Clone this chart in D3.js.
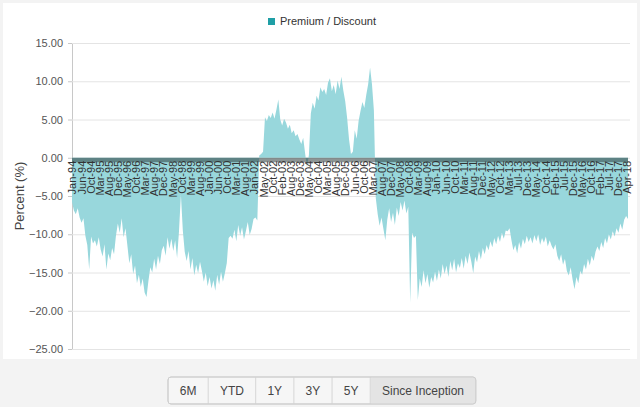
<!DOCTYPE html>
<html><head><meta charset="utf-8">
<script src="https://cdn.jsdelivr.net/npm/d3@7"></script>
<style>
html,body{margin:0;padding:0;background:#f3f3f3;}
svg{display:block;font-family:"Liberation Sans",Arial,sans-serif;}
</style></head><body>
<svg id="chart" width="640" height="407"></svg>
<script>
// Monthly premium / discount (%), Jan-94 .. Apr-18
const premiumDiscount = [
  -5.8, -6.9, -7.4, -6.6, -7.8, -8.5, -7.9, -10.2, -11.4, -14.6, -10.3, -11.2,
  -10.8, -11.6, -10.4, -12.0, -12.9, -11.3, -14.6, -12.5, -13.4, -11.8, -12.6, -10.2,
  -8.6, -9.8, -7.9, -10.4, -9.2, -11.5, -13.8, -12.6, -15.2, -14.1, -16.4, -15.3,
  -16.9, -15.8, -17.6, -18.2, -16.1, -14.3, -15.0, -13.2, -14.6, -12.8, -13.9, -12.1,
  -11.5, -12.8, -10.4, -11.9, -10.6, -12.2, -10.8, -13.1, -9.6, -4.8, -9.5, -12.3,
  -13.5, -12.2, -14.6, -13.1, -15.4, -14.0, -15.1, -13.6, -14.8, -16.2, -15.0, -16.8,
  -15.6, -17.1, -16.0, -17.4, -15.3, -16.6, -14.9, -16.2, -15.1, -13.8, -10.5, -10.2,
  -10.6, -9.4, -10.9, -8.8, -10.2, -9.1, -10.7, -9.6, -8.4, -10.1, -9.3, -8.0,
  -7.8, -8.2, 0.3, 0.5, 0.8, 5.3, 4.8, 5.6, 5.2, 5.9, 5.1, 6.3,
  7.6, 5.0, 4.2, 5.1, 4.6, 3.8, 4.3, 3.2, 3.6, 2.8, 3.1, 2.4,
  1.8, 2.6, 0.6, -1.3, 0.4, 5.8, 7.2, 6.4, 8.1, 7.5, 9.2, 8.6,
  9.0, 8.2, 9.8, 10.4, 8.7, 9.5, 8.3, 10.1, 9.0, 10.6, 8.8, 7.4,
  5.2, 2.4, 0.5, 0.8, 3.6, 2.5, 4.8, 6.1, 7.3, 6.5, 8.2, 9.6,
  11.8, 9.6, 6.2, -5.3, -7.4, -8.9, -7.8, -9.3, -10.8, -8.1, -6.6, -8.4,
  -7.2, -8.8, -6.5, -7.6, -5.8, -6.9, -5.6, -7.3, -6.4, -19.0, -9.8, -10.5,
  -10.2, -18.6, -15.8, -16.9, -14.7, -16.4, -15.2, -17.0, -15.6, -16.3, -14.9, -16.1,
  -14.6, -15.8, -13.9, -15.2, -14.1, -15.6, -13.5, -14.7, -13.2, -15.0, -13.8, -14.4,
  -13.1, -14.5, -12.8, -13.9, -12.4, -13.6, -15.1, -12.9, -13.7, -12.2, -13.3, -11.8,
  -12.6, -11.4, -12.1, -10.9, -11.7, -10.5, -11.3, -10.2, -11.0, -9.8, -10.6, -9.5,
  -9.6, -9.2, -10.8, -12.1, -11.4, -12.5, -11.0, -11.9, -10.6, -11.3, -10.2, -11.0,
  -10.4, -11.2, -10.1, -10.9, -10.0, -11.4, -10.5, -11.1, -10.3, -11.6, -10.8, -11.5,
  -12.0, -11.3, -12.8, -13.5, -12.6, -14.0, -13.2, -14.8, -15.4, -14.3, -15.9, -17.2,
  -15.6, -16.4, -14.8, -15.3, -13.9, -14.6, -13.2, -14.1, -12.8, -13.5, -12.3, -11.6,
  -12.2, -11.0, -11.8, -10.5, -11.2, -10.0, -10.7, -9.6, -10.3, -9.2, -9.8, -8.6,
  -9.4, -8.1, -7.6, -8.0
];
const xTickLabels = ["Jan-94","Jun-94","Oct-94","Mar-95","Aug-95","Dec-95","May-96","Oct-96","Mar-97","Aug-97","Dec-97","May-98","Oct-98","Mar-99","Aug-99","Jan-00","Jun-00","Oct-00","Mar-01","Aug-01","Jan-02","May-02","Oct-02","Feb-03","Aug-03","Dec-03","May-04","Oct-04","Mar-05","Aug-05","Dec-05","Jun-06","Oct-06","Mar-07","Aug-07","Dec-07","May-08","Oct-08","Mar-09","Aug-09","Jan-10","Jun-10","Oct-10","Mar-11","Aug-11","Dec-11","May-12","Oct-12","Mar-13","Jul-13","Dec-13","May-14","Oct-14","Feb-15","Jul-15","Dec-15","May-16","Oct-16","Feb-17","Jul-17","Dec-17","Apr-18"];
const yTicks = [15, 10, 5, 0, -5, -10, -15, -20, -25];
const seriesName = "Premium / Discount";
const yTitle = "Percent (%)";
const rangeButtons = ["6M", "YTD", "1Y", "3Y", "5Y", "Since Inception"];
const selectedButton = "Since Inception";

const svg = d3.select("#chart");
const W = 640, H = 407;
const plot = {left: 72, right: 630, top: 43, bottom: 349};

// white chart panel
svg.append("rect").attr("x", 3).attr("y", 3).attr("width", W - 6).attr("height", 356)
  .attr("fill", "#fff");

const x = d3.scaleLinear().domain([0, premiumDiscount.length - 1]).range([plot.left, 628]);
const y = d3.scaleLinear().domain([-25, 15]).range([plot.bottom, plot.top]);
const xl = d3.scalePoint().domain(xTickLabels).range([plot.left, 627]);

// grid + y axis
const yAxis = d3.axisLeft(y).tickValues(yTicks).tickFormat(d3.format(".2f"))
  .tickSize(-(plot.right - plot.left)).tickPadding(9);
const gy = svg.append("g").attr("transform", `translate(${plot.left},0)`).call(yAxis);
gy.select(".domain").attr("stroke", "#c8c8c8");
gy.selectAll(".tick line").attr("stroke", "#e4e4e4");
gy.selectAll(".tick text").attr("fill", "#555").attr("font-size", 11)
  .attr("font-family", "'Liberation Sans',Arial,sans-serif");
gy.selectAll(".tick").append("line").attr("x1", -4).attr("x2", 0).attr("stroke", "#c8c8c8");

// area
const area = d3.area().x((d, i) => x(i)).y0(y(0)).y1(d => y(d));
svg.append("path").datum(premiumDiscount).attr("d", area).attr("fill", "#98d7dc");

// zero band
svg.append("line").attr("x1", plot.left).attr("x2", 628)
  .attr("y1", y(0) + 2.3).attr("y2", y(0) + 2.3)
  .attr("stroke", "rgba(45,60,60,0.55)").attr("stroke-width", 4.6);

// x labels
const xAxis = d3.axisBottom(xl).tickSize(0);
const gx = svg.append("g").attr("transform", `translate(0,${y(0) + 3})`).call(xAxis);
gx.select(".domain").remove();
gx.selectAll(".tick text")
  .attr("transform", "rotate(-90)").attr("text-anchor", "end")
  .attr("x", 0).attr("y", 0).attr("dy", "0.36em")
  .attr("fill", "#333").attr("font-size", 11)
  .attr("font-family", "'Liberation Sans',Arial,sans-serif");

// y title
svg.append("text").attr("transform", `translate(24,${(plot.top + plot.bottom) / 2}) rotate(-90)`)
  .attr("text-anchor", "middle").attr("fill", "#444").attr("font-size", 13).text(yTitle);

// legend
const lg = svg.append("g");
lg.append("text").attr("x", 280).attr("y", 25).attr("fill", "#333")
  .attr("font-size", 11).text(seriesName);
lg.append("rect").attr("x", 268).attr("y", 18).attr("width", 7).attr("height", 7)
  .attr("fill", "#1f9fa6");

// range buttons
const bg = svg.append("g");
const tmp = bg.append("text").attr("font-size", 12);
const widths = rangeButtons.map(b => { tmp.text(b); return tmp.node().getComputedTextLength() + 23.5; });
tmp.remove();
const total = d3.sum(widths);
let bx = 168;
const by = 377, bh = 27;
bg.append("rect").attr("x", bx).attr("y", by).attr("width", total).attr("height", bh)
  .attr("rx", 3).attr("fill", "#f6f6f6").attr("stroke", "#cfcfcf");
rangeButtons.forEach((b, i) => {
  const w = widths[i];
  if (b === selectedButton) {
    bg.append("rect").attr("x", bx + 0.5).attr("y", by + 0.5).attr("width", w - 1).attr("height", bh - 1)
      .attr("rx", 2).attr("fill", "#e4e4e4");
  }
  if (i > 0) {
    bg.append("line").attr("x1", bx).attr("x2", bx).attr("y1", by).attr("y2", by + bh)
      .attr("stroke", "#d6d6d6");
  }
  bg.append("text").attr("x", bx + w / 2).attr("y", by + 18).attr("text-anchor", "middle")
    .attr("font-size", 12).attr("fill", "#444").text(b);
  bx += w;
});
bg.append("rect").attr("x", 168).attr("y", by).attr("width", total).attr("height", bh)
  .attr("rx", 3).attr("fill", "none").attr("stroke", "#cfcfcf");
</script>
</body></html>
